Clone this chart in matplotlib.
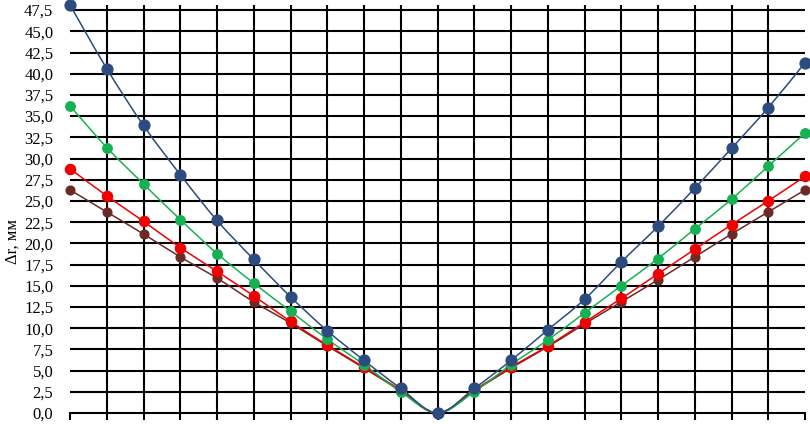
import matplotlib
matplotlib.use("Agg")
import matplotlib.pyplot as plt
from matplotlib.path import Path
from matplotlib.patches import PathPatch
import numpy as np

# positions along the axis (unlabelled categories)
positions = list(range(21))

# Δr, mm for the four series
blue = [48.1, 40.6, 33.9, 28.1, 22.7, 18.1, 13.7, 9.7, 6.2, 2.9, 0.0,
        2.9, 6.2, 9.8, 13.4, 17.8, 22.0, 26.5, 31.2, 36.0, 41.3]
green = [36.2, 31.3, 27.0, 22.8, 18.8, 15.3, 12.0, 8.7, 5.7, 2.5, 0.0,
         2.5, 5.7, 8.6, 11.8, 15.0, 18.2, 21.7, 25.2, 29.1, 33.0]
red = [28.8, 25.6, 22.6, 19.5, 16.7, 13.8, 10.8, 8.0, 5.4, 2.7, 0.0,
       2.7, 5.4, 7.9, 10.7, 13.5, 16.4, 19.3, 22.2, 25.0, 27.9]
brown = [26.3, 23.7, 21.1, 18.4, 15.9, 13.1, 10.6, 7.9, 5.3, 2.6, 0.0,
         2.6, 5.3, 7.8, 10.5, 13.1, 15.7, 18.4, 21.1, 23.7, 26.3]

y_ticks = [i * 2.5 for i in range(20)]

SERIF = ["Liberation Serif", "DejaVu Serif"]


def smooth_path(x, y):
    # Excel-style smoothed line: cubic Bezier segments through the points
    pts = np.column_stack([x, y]).astype(float)
    verts = [pts[0]]
    codes = [Path.MOVETO]
    n = len(pts)
    for i in range(n - 1):
        p0 = pts[i - 1] if i > 0 else pts[i]
        p1 = pts[i]
        p2 = pts[i + 1]
        p3 = pts[i + 2] if i + 2 < n else pts[i + 1]
        c1 = p1 + (p2 - p0) / 6.0
        c2 = p2 - (p3 - p1) / 6.0
        verts += [c1, c2, p2]
        codes += [Path.CURVE4] * 3
    return Path(verts, codes)


fig = plt.figure(figsize=(8.1, 4.24), dpi=100)
ax = fig.add_axes([70 / 810, 11 / 424, 735 / 810, 408 / 424])

ax.set_xlim(0, 20)
ax.set_ylim(0, 48.1)

for v in y_ticks[1:]:
    ax.axhline(v, color="black", lw=1.5, zorder=1)
for p in positions[1:-1]:
    ax.axvline(p, color="black", lw=1.5, zorder=1)

series = [
    (brown, "#6B2A27", 6.3),
    (red, "#F20000", 7.3),
    (green, "#16B152", 6.8),
    (blue, "#2C4B7F", 7.8),
]
for vals, col, ms in series:
    ax.add_patch(PathPatch(smooth_path(positions, vals), facecolor="none",
                           edgecolor=col, lw=1.1, zorder=3, clip_on=False))
    ax.plot(positions, vals, linestyle="none", marker="o", ms=ms,
            color=col, zorder=4, clip_on=False)

for s in ["left", "right", "top"]:
    ax.spines[s].set_visible(False)
ax.spines["bottom"].set_linewidth(1.5)

ax.set_xticks(positions)
ax.set_xticklabels([])
ax.tick_params(axis="x", direction="out", length=5, width=1.5, color="black")

ax.set_yticks(y_ticks)
ax.set_yticklabels([f"{v:.1f}".replace(".", ",") for v in y_ticks],
                   family=SERIF, fontsize=12)
ax.tick_params(axis="y", length=0, pad=12)

fig.text(13 / 810, 1 - 242 / 424, "Δr, мм", rotation=90, family=SERIF,
         fontsize=12, ha="center", va="center")

fig.savefig("out.png", dpi=100)
